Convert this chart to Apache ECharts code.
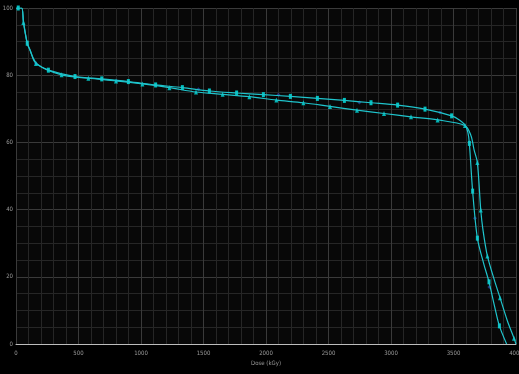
<!DOCTYPE html>
<html>
<head>
<meta charset="utf-8">
<script src="https://cdn.jsdelivr.net/npm/echarts@6/dist/echarts.min.js"></script>
<style>
  html, body { margin: 0; padding: 0; background: #000; }
  #chart { width: 519px; height: 374px; }
</style>
</head>
<body>
<div id="chart"></div>
<script>
// curve with square markers (upper in the middle)
const squareLine = [
  [0, 100], [45, 100], [60, 96], [90, 89.5], [112, 87.5], [139, 85], [170, 83.3],
  [259, 81.5], [472, 79.6], [686, 78.9], [899, 78.1], [1117, 77.1], [1331, 76.3],
  [1547, 75.3], [1765, 74.7], [1979, 74.2], [2195, 73.7], [2411, 73.1], [2627, 72.5],
  [2840, 71.8], [3053, 71.1], [3272, 69.9], [3485, 67.9], [3547, 66.7], [3592, 65.2],
  [3615, 63], [3627, 59.7], [3653, 45.5], [3691, 31.5], [3741, 24], [3784, 18.5],
  [3830, 11], [3867, 5.4], [3925, 0]
];
const squareMarks = [
  [18, 100], [90, 89.5], [259, 81.5], [472, 79.6], [686, 78.9], [899, 78.1], [1117, 77.1],
  [1331, 76.3], [1547, 75.3], [1765, 74.7], [1979, 74.2], [2195, 73.7], [2411, 73.1],
  [2627, 72.5], [2840, 71.8], [3053, 71.1], [3272, 69.9], [3485, 67.9], [3627, 59.7],
  [3653, 45.5], [3691, 31.5], [3784, 18.5], [3867, 5.4]
];
// curve with triangle markers (lower in the middle)
const triangleLine = [
  [0, 100], [45, 100], [59, 95.7], [90, 89.5], [112, 87.5], [160, 83.5], [365, 80.1],
  [579, 79.1], [800, 78.3], [1011, 77.4], [1227, 76.3], [1440, 75.0], [1653, 74.3],
  [1867, 73.6], [2083, 72.6], [2299, 71.8], [2512, 70.7], [2728, 69.6], [2944, 68.6],
  [3160, 67.6], [3373, 66.7], [3592, 65.0], [3640, 62], [3665, 57.7], [3691, 54],
  [3718, 39.9], [3736, 33.9], [3771, 26.2], [3827, 19], [3872, 13.8], [3930, 7],
  [3984, 1.7], [4000, 0]
];
const triangleMarks = [
  [59, 95.7], [160, 83.5], [365, 80.1], [579, 79.1], [800, 78.3], [1011, 77.4], [1227, 76.3],
  [1440, 75.0], [1653, 74.3], [1867, 73.6], [2083, 72.6], [2299, 71.8], [2512, 70.7],
  [2728, 69.6], [2944, 68.6], [3160, 67.6], [3373, 66.7], [3592, 65.0], [3691, 54],
  [3718, 39.9], [3771, 26.2], [3872, 13.8], [3984, 1.7]
];
// faint dark-blue markers
const blueMarks = [
  [160, 83.5], [805, 78.3], [1459, 75.8], [2099, 74.2], [2747, 71.9], [3392, 68.9], [3672, 37.4], [3787, 17]
];

const xTicks = [0, 500, 1000, 1500, 2000, 2500, 3000, 3500, 4000];
const yTicks = [0, 20, 40, 60, 80, 100];

const chart = echarts.init(document.getElementById('chart'));

const labelStyle = { color: '#9a9a9a', fontSize: 6, fontFamily: 'DejaVu Sans Condensed' };

chart.setOption({
  backgroundColor: '#000',
  animation: false,
  grid: {
    left: 16, right: 3, top: 8, bottom: 30,
    containLabel: false, outerBoundsMode: 'none',
    backgroundColor: '#080808', show: true, borderWidth: 0
  },
  xAxis: {
    type: 'value', min: 0, max: 4000, interval: 500,
    name: 'Dose (kGy)', nameLocation: 'middle', nameGap: 10,
    nameTextStyle: labelStyle,
    axisLine: { show: true, lineStyle: { color: '#bdbdbd', width: 1 } },
    axisTick: { show: false },
    axisLabel: Object.assign({ margin: 6, formatter: v => xTicks.includes(v) ? String(v) : '' }, labelStyle),
    splitLine: { show: true, lineStyle: { color: '#3a3a3a', width: 1 } },
    minorTick: { show: false, splitNumber: 5 },
    minorSplitLine: { show: true, lineStyle: { color: '#262626', width: 1 } }
  },
  yAxis: {
    type: 'value', min: 0, max: 100, interval: 20,
    axisLine: { show: false },
    axisTick: { show: false },
    axisLabel: Object.assign({ margin: 3, formatter: v => yTicks.includes(v) ? String(v) : '' }, labelStyle),
    splitLine: { show: true, lineStyle: { color: '#3a3a3a', width: 1 } },
    minorTick: { show: false, splitNumber: 4 },
    minorSplitLine: { show: true, lineStyle: { color: '#262626', width: 1 } }
  },
  series: [
    {
      type: 'line', data: squareLine, smooth: 0.3, showSymbol: false,
      lineStyle: { color: '#1fc4cc', width: 1.2 }
    },
    {
      type: 'line', data: triangleLine, smooth: 0.3, showSymbol: false,
      lineStyle: { color: '#1fc4cc', width: 1.2 }
    },
    {
      type: 'scatter', data: blueMarks, symbol: 'diamond', symbolSize: 4,
      itemStyle: { color: '#2b3f95' }
    },
    {
      type: 'scatter', data: squareMarks, symbol: 'rect', symbolSize: [3, 5],
      itemStyle: { color: '#00f0f0' }
    },
    {
      type: 'scatter', data: triangleMarks, symbol: 'triangle', symbolSize: [4, 5],
      itemStyle: { color: '#00e0e0' }
    }
  ]
});
</script>
</body>
</html>
